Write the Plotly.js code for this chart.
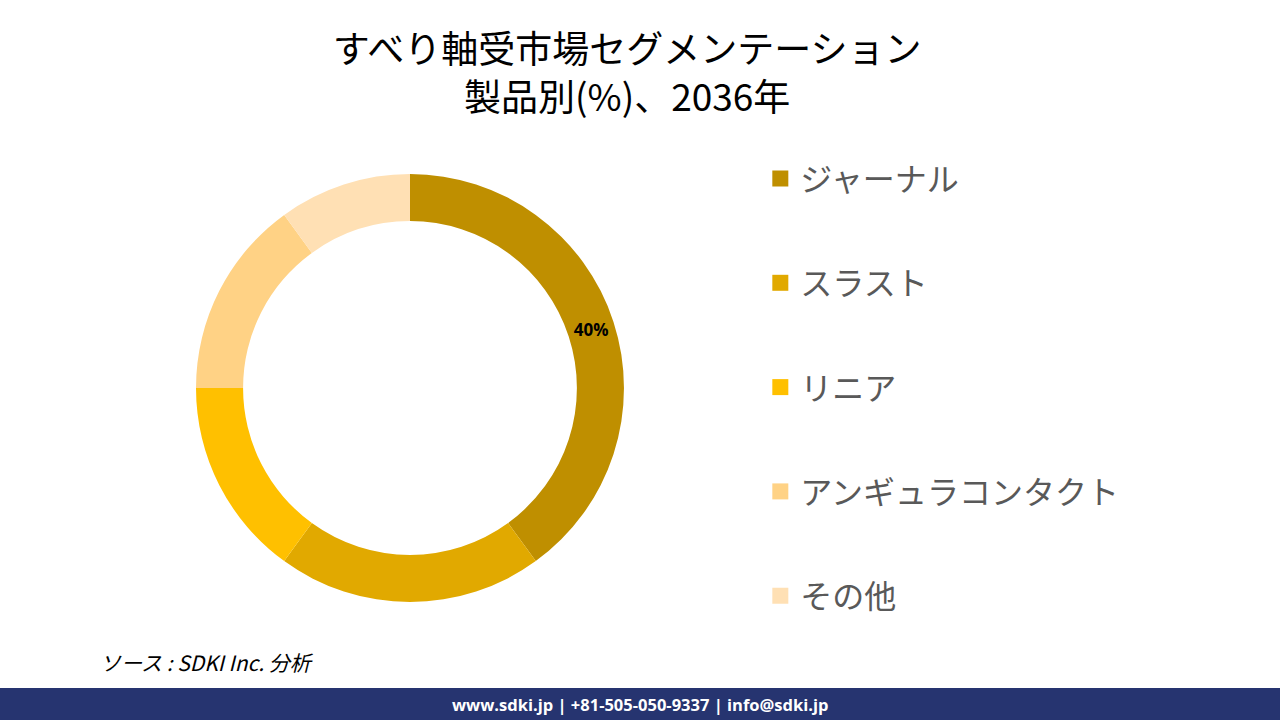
<!DOCTYPE html>
<html>
<head>
<meta charset="utf-8">
<script src="https://cdn.plot.ly/plotly-3.0.1.min.js"></script>
<style>html,body{margin:0;padding:0;background:#fff;}#chart{width:1280px;height:720px;}</style>
</head>
<body>
<div id="chart"></div>
<script>
const categories = ["ジャーナル", "スラスト", "リニア", "アンギュラコンタクト", "その他"];
const shares = [40, 20, 15, 15, 10];
const colors = ["#BF8F00", "#E1A900", "#FFC000", "#FFD285", "#FFE0B4"];
const shownLabels = [true, false, false, false, false];

const jp = "'Noto Sans CJK JP', 'Noto Sans', sans-serif";

const pie = {
  type: "pie",
  labels: categories,
  values: shares,
  sort: false,
  direction: "clockwise",
  rotation: 0,
  hole: 0.78,
  marker: {colors: colors, line: {width: 0}},
  texttemplate: shownLabels.map(s => s ? "<b>%{percent:.0%}</b>" : ""),
  textposition: "inside",
  insidetextorientation: "horizontal",
  textfont: {family: "'Open Sans', sans-serif", size: 17, color: "#000"},
  showlegend: false,
  hoverinfo: "label+percent",
  domain: {x: [0.1531, 0.4875], y: [0.1639, 0.7583]}
};

const legendTraces = categories.map((c, i) => ({
  type: "scatter",
  mode: "markers",
  x: [null], y: [null],
  name: c,
  legendgroup: "g" + i,
  marker: {symbol: "square", size: 18, color: colors[i]},
  showlegend: true,
  hoverinfo: "skip"
}));

const layout = {
  width: 1280, height: 720,
  margin: {l: 0, r: 0, t: 0, b: 0},
  paper_bgcolor: "#ffffff",
  plot_bgcolor: "#ffffff",
  title: {
    text: "すべり軸受市場セグメンテーション<br>製品別(%)、2036年",
    font: {family: jp, size: 37, color: "#000"},
    x: 0.49, xanchor: "center",
    yref: "container",
    y: 1 - 63 / 720, yanchor: "middle"
  },
  xaxis: {visible: false, domain: [0.9, 0.91]},
  yaxis: {visible: false, domain: [0.9, 0.91]},
  legend: {
    x: 0.594, xanchor: "left",
    y: 0.79, yanchor: "top",
    font: {family: jp, size: 32, color: "#595959"},
    tracegroupgap: 59.7,
    itemclick: false, itemdoubleclick: false,
    bgcolor: "rgba(0,0,0,0)"
  },
  shapes: [{
    type: "rect", xref: "paper", yref: "paper",
    x0: 0, x1: 1, y0: 0, y1: 32 / 720,
    fillcolor: "#263470", line: {width: 0}, layer: "below"
  }],
  annotations: [
    {
      text: "<i>ソース : SDKI Inc. 分析</i>",
      xref: "paper", yref: "paper",
      x: 98 / 1280, y: 1 - 662 / 720,
      xanchor: "left", yanchor: "middle",
      showarrow: false,
      font: {family: jp, size: 21, color: "#000"}
    },
    {
      text: "<b>www.sdki.jp | +81-505-050-9337 | info@sdki.jp</b>",
      xref: "paper", yref: "paper",
      x: 0.5, y: 16 / 720,
      xanchor: "center", yanchor: "middle",
      showarrow: false,
      font: {family: "'Open Sans', sans-serif", size: 16.5, color: "#ffffff"}
    }
  ]
};

Plotly.newPlot("chart", [pie].concat(legendTraces), layout, {displayModeBar: false, staticPlot: true});
</script>
</body>
</html>
